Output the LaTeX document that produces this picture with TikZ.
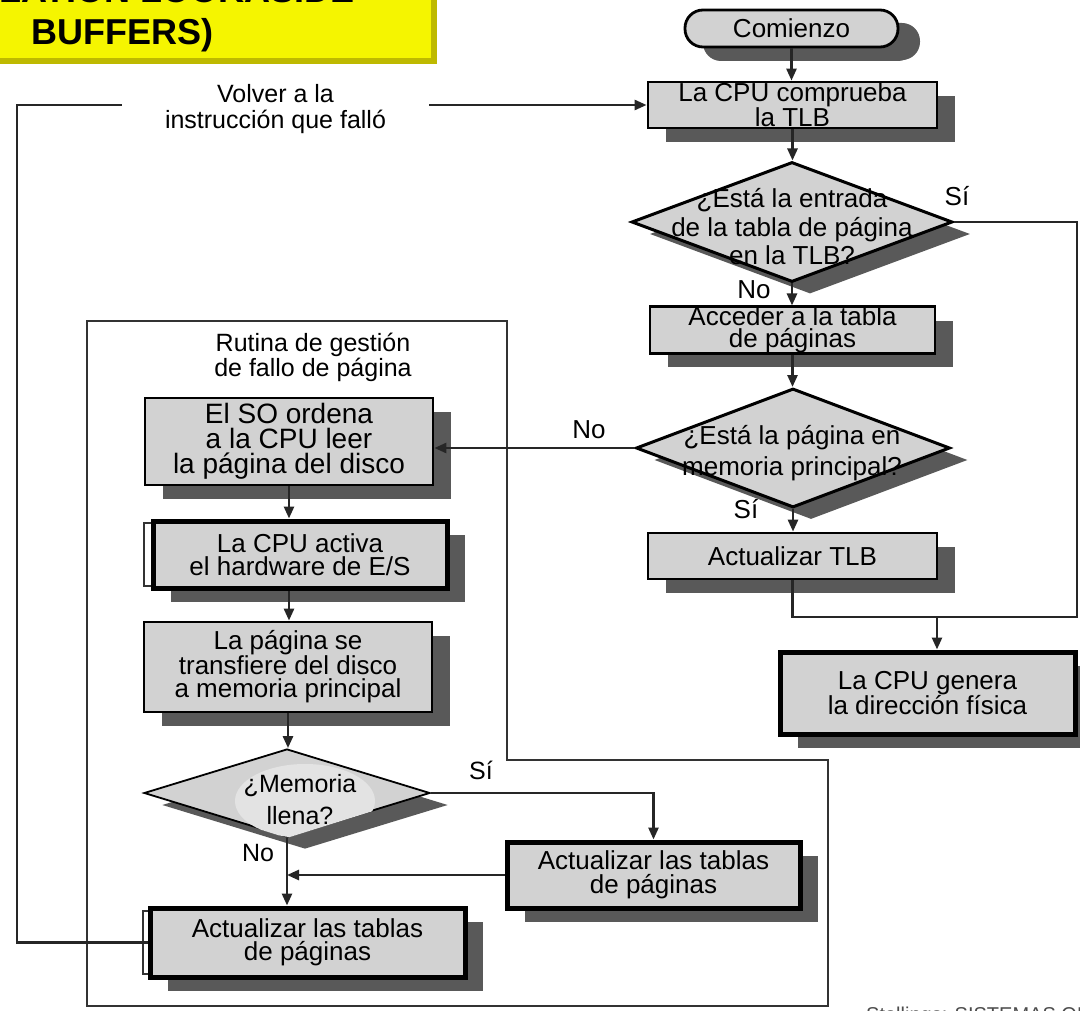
\documentclass[tikz,border=0pt]{standalone}
\usepackage{fontspec}
\setmainfont{Liberation Sans}
\usetikzlibrary{shapes.geometric,arrows.meta,shadows}
\newcommand\fsz[2]{\fontsize{#1pt}{#2pt}\selectfont}
\definecolor{titleyellow}{RGB}{245,245,0}
\definecolor{titleedge}{RGB}{190,185,0}
\tikzset{
  shade/.style={drop shadow={shadow xshift=18pt, shadow yshift=-14pt, opacity=1, fill=black!65}},
  box/.style={draw=black, line width=2.8pt, fill=gray!35, inner sep=0pt, align=center,
    font={\fsz{26}{22}}, shade},
  thickbox/.style={box, line width=5pt},
  term/.style={box, rounded corners=18pt,
    drop shadow={shadow xshift=22pt, shadow yshift=-13pt, opacity=1, fill=black!65}},
  dec/.style={diamond, draw=black, line width=3pt, fill=gray!35, inner sep=0pt,
    drop shadow={shadow xshift=18pt, shadow yshift=-12pt, opacity=1, fill=black!65}},
  txt/.style={inner sep=0pt, align=center, font={\fsz{26}{22}}},
  flow/.style={line width=2.6pt, draw=black!85},
  arr/.style={flow, -{Triangle[length=12pt,width=10pt]}},
  frame/.style={line width=2.6pt, draw=black!80},
  backframe/.style={line width=1.8pt, draw=black!80, fill=white}
}
\begin{document}
\begin{tikzpicture}[x=1pt,y=-1pt]
\useasboundingbox (0,0) rectangle (1080,1011);
\clip (0,0) rectangle (1080,1011);
\fill[white] (0,0) rectangle (1080,1011);

% title banner
\fill[titleedge] (-10,-10) rectangle (437,64);
\fill[titleyellow] (-10,-10) rectangle (431,58);
\node[anchor=base east, inner sep=0pt, font={\bfseries\fsz{36}{40}}] (title1) at (355,3) {(TRANSLATION LOOKASIDE};
\node[anchor=base west, inner sep=0pt, font={\bfseries\fsz{36}{40}}] (title2) at (31,45) {BUFFERS)};

% page-fault routine frame
\draw[frame] (507,760) -- (507,321) -- (87,321) -- (87,1006) -- (828,1006) -- (828,760) -- cycle;
\node[txt, font={\fsz{25}{25}}] (rutina) at (313,357) {Rutina de gestión\\de fallo de página};

% main column
\node[term, minimum width=213pt, minimum height=37pt] (start) at (791.5,28.5) {Comienzo};
\node[box, minimum width=289pt, minimum height=46pt, font={\fsz{26}{20}}] (check) at (792.5,105) {La CPU comprueba\\la TLB};
\node[dec, minimum width=321pt, minimum height=120pt] (d1) at (792,222) {};
\node[txt, font={\fsz{26}{28.5}}] (d1t) at (792,227) {¿Está la entrada\\de la tabla de página\\en la TLB?};
\node[box, minimum width=285pt, minimum height=46pt] (acc) at (792.5,330) {Acceder a la tabla\\de páginas};
\node[dec, minimum width=314pt, minimum height=119pt] (d2) at (793,448) {};
\node[txt, font={\fsz{26}{31}}] (d2t) at (792,453) {¿Está la página en\\memoria principal?};
\node[box, minimum width=289pt, minimum height=46pt] (upd) at (792.5,556) {Actualizar TLB};
\node[thickbox, minimum width=295pt, minimum height=82pt, font={\fsz{26}{24}}] (phys) at (927.5,693) {La CPU genera\\la dirección física};

% routine column
\node[box, minimum width=288pt, minimum height=87pt, font={\fsz{28}{25}}] (so) at (289,441.5) {El SO ordena\\a la CPU leer\\la página del disco};
\draw[backframe] (144,523) rectangle (440,586);
\node[thickbox, minimum width=294pt, minimum height=67pt, font={\fsz{26}{23}}] (act) at (300,554.5) {La CPU activa\\el hardware de E/S};
\node[box, minimum width=288pt, minimum height=90pt, font={\fsz{26}{23}}] (page) at (288,667) {La página se\\transfiere del disco\\a memoria principal};
\node[dec, line width=1.8pt, minimum width=286pt, minimum height=88pt] (d3) at (287,793) {};
\begin{scope}
  \clip (d3.north) -- (d3.east) -- (d3.south) -- (d3.west) -- cycle;
  \fill[gray!22] (305,801) ellipse [x radius=70pt, y radius=37pt];
\end{scope}
\node[txt, font={\fsz{25}{32}}] (d3t) at (300,800) {¿Memoria\\llena?};
\node[thickbox, minimum width=293pt, minimum height=66pt, font={\fsz{26}{24}}] (upd2) at (653.5,875) {Actualizar las tablas\\de páginas};
\draw[backframe] (143,911) rectangle (460,974);
\node[thickbox, minimum width=315pt, minimum height=69pt, font={\fsz{26}{23}}] (upd3) at (307.5,942.5) {Actualizar las tablas\\de páginas};

% branch labels
\node[txt] (yes1) at (957,196) {Sí};
\node[txt] (no1) at (754,290) {No};
\node[txt] (yes2) at (746,509) {Sí};
\node[txt] (no2) at (589,430) {No};
\node[txt, font={\fsz{25}{25}}] (yes3) at (481,770) {Sí};
\node[txt, font={\fsz{25}{25}}] (no3) at (258,853) {No};

% junction points
\coordinate (jl) at (792.5,617);
\coordinate (jm) at (937,617);
\coordinate (jr) at (1077,617);
\coordinate (loopx) at (17,500);

% connectors
\draw[arr] (start.south) -- (start.south |- check.north);
\draw[arr] (check.south) -- (check.south |- d1.north);
\draw[arr] (d1.south) -- (d1.south |- acc.north);
\draw[arr] (acc.south) -- (acc.south |- d2.north);
\draw[arr] (d2.south) -- (d2.south |- upd.north);
\draw[flow] (upd.south) -- (jl) -- (jr) -- (d1.east -| jr) -- (d1.east);
\draw[arr] (jm) -- (jm |- phys.north);
\draw[arr] (d2.west) -- (d2.west -| so.east);
\draw[arr] (so.south) -- (so.south |- act.north);
\draw[arr] (so.south |- act.south) -- (so.south |- page.north);
\draw[arr] (page.south) -- (page.south |- d3.north);
\draw[arr] (d3.east) -| (upd2.north);
\draw[arr] (upd2.west) -- (upd2.west -| d3.south);
\draw[arr] (d3.south) -- (d3.south |- upd3.north);
\draw[arr] (upd3.west) -| (loopx) |- (check.west);
\node[txt, fill=white, minimum width=307pt, minimum height=54pt, font={\fsz{25}{26}}] (back) at (275.5,109) {Volver a la\\instrucción que falló};

% source line along the lower edge
\node[anchor=base west, inner sep=0pt, text=black!70, font={\fsz{20}{20}}] (src) at (866,1021) {Stallings: SISTEMAS OPERATIVOS};
\end{tikzpicture}
\end{document}
